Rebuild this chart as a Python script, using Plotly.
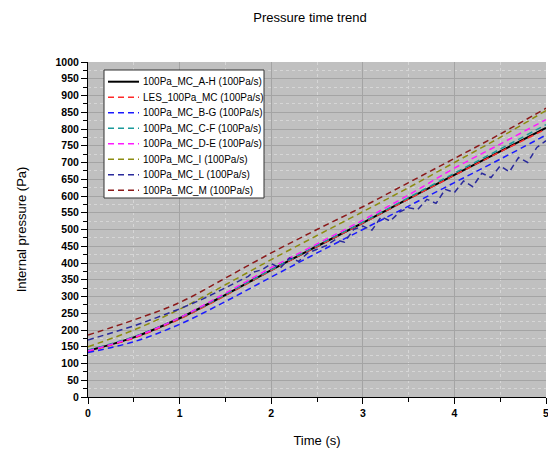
import plotly.graph_objects as go

# ---- data ----
t_main = [0, 0.5, 1, 1.5, 2, 2.5, 3, 3.5, 4, 4.5, 5]

p_AH  = [138, 178, 235, 305, 379, 450, 520, 592, 663, 733, 803]
p_LES = [137, 176, 233, 303, 378, 449, 519, 591, 662, 732, 800]
p_BG  = [133, 165, 217, 285, 358, 430, 500, 570, 640, 710, 782]
p_CF  = [140, 180, 236, 306, 380, 452, 522, 595, 668, 740, 813]
p_DE  = [138, 178, 237, 310, 386, 457, 528, 603, 683, 755, 828]
p_I   = [150, 200, 262, 335, 410, 482, 553, 625, 700, 775, 855]
p_M   = [185, 230, 282, 355, 430, 500, 568, 640, 712, 785, 862]

t_L = [0, 0.25, 0.5, 0.75, 1.0, 1.25, 1.5, 1.75,
       1.8, 1.9, 2.0, 2.1, 2.2, 2.3, 2.4, 2.5, 2.6, 2.7, 2.8, 2.9,
       3.0, 3.1, 3.2, 3.3, 3.4, 3.5, 3.6, 3.7, 3.8, 3.9,
       4.0, 4.1, 4.2, 4.3, 4.4, 4.5, 4.6, 4.7, 4.8, 4.9, 5.0]
p_L = [170, 190, 212, 237, 263, 292, 325, 360,
       372, 380, 398, 385, 415, 405, 430, 440, 452, 470, 462, 500,
       510, 498, 538, 525, 552, 565, 560, 590, 578, 620,
       610, 645, 628, 668, 655, 690, 672, 715, 700, 745, 765]

names = ["100Pa_MC_A-H (100Pa/s)", "LES_100Pa_MC (100Pa/s)", "100Pa_MC_B-G (100Pa/s)",
         "100Pa_MC_C-F (100Pa/s)", "100Pa_MC_D-E (100Pa/s)", "100Pa_MC_I (100Pa/s)",
         "100Pa_MC_L (100Pa/s)", "100Pa_MC_M (100Pa/s)"]
colors = ["#000000", "#ff2a2a", "#1a1aff", "#1a9a9a", "#ff1aff", "#8c8c10", "#2a2a9c", "#8b1a1a"]

series = [(t_main, p_AH), (t_main, p_LES), (t_main, p_BG), (t_main, p_CF),
          (t_main, p_DE), (t_main, p_I), (t_L, p_L), (t_main, p_M)]

DASH = "6px,4px"

fig = go.Figure()
for i, ((tx, py), nm, c) in enumerate(zip(series, names, colors)):
    if i == 0:
        line = dict(color=c, width=2)
    else:
        line = dict(color=c, width=1.5, dash=DASH)
    fig.add_trace(go.Scatter(x=tx, y=py, mode="lines", name=nm, line=line,
                             line_shape="spline" if i != 6 else "linear",
                             showlegend=False))

# ---- legend drawn as a boxed key (plot area: x 88..546 px, y 62..397 px) ----
PL, PR, PT, PB = 88, 546, 62, 397
def px(x):
    return (x - PL) / (PR - PL)
def py_(y):
    return (PB - y) / (PB - PT)

shapes = [dict(type="rect", xref="paper", yref="paper",
               x0=px(104), x1=px(264), y0=py_(198), y1=py_(70),
               fillcolor="white", line=dict(color="#333333", width=1), layer="above")]
annotations = []
for k, (nm, c) in enumerate(zip(names, colors)):
    yc = 81.7 + 15.5 * k
    shapes.append(dict(type="line", xref="paper", yref="paper",
                       x0=px(108), x1=px(139), y0=py_(yc), y1=py_(yc), layer="above",
                       line=dict(color=c, width=2 if k == 0 else 1.5,
                                 dash="solid" if k == 0 else DASH)))
    annotations.append(dict(xref="paper", yref="paper", x=px(140.5), y=py_(yc),
                            xanchor="left", yanchor="middle", showarrow=False,
                            text=nm, font=dict(size=10, color="black")))

tickfont = dict(family="Arial, Liberation Sans", size=10.5, color="black", weight="bold")

fig.update_layout(
    width=548, height=451,
    margin=dict(l=PL, r=548 - PR, t=PT, b=451 - PB, autoexpand=False),
    paper_bgcolor="white",
    plot_bgcolor="#c0c0c0",
    font=dict(family="Arial, Liberation Sans", color="black"),
    title=dict(text="Pressure time trend", x=310/548, xanchor="center", y=1 - 17/451,
               yanchor="middle", font=dict(size=13)),
    showlegend=False,
    shapes=shapes,
    annotations=annotations,
)

fig.update_xaxes(
    range=[0, 5], dtick=1, tick0=0, automargin=False,
    showline=True, linecolor="black", linewidth=1,
    ticks="outside", ticklen=6, tickcolor="black",
    tickfont=tickfont, ticklabeloverflow="allow",
    showgrid=True, gridcolor="#a4a4a4", gridwidth=1,
    zeroline=False,
    minor=dict(dtick=0.5, ticks="outside", ticklen=4, tickcolor="black",
               showgrid=True, gridcolor="#d6d6d6", griddash="dot"),
    title=dict(text="Time (s)", font=dict(size=13), standoff=18),
)
fig.update_yaxes(
    range=[0, 1000], dtick=50, tick0=0, automargin=False,
    showline=True, linecolor="black", linewidth=1,
    ticks="outside", ticklen=6, tickcolor="black",
    tickfont=tickfont,
    showgrid=True, gridcolor="#a4a4a4", gridwidth=1,
    zeroline=False,
    minor=dict(dtick=25, ticks="outside", ticklen=4, tickcolor="black",
               showgrid=True, gridcolor="#d6d6d6", griddash="dot"),
    title=dict(text="Internal pressure (Pa)", font=dict(size=13), standoff=25),
)

fig.write_html("out.html")
